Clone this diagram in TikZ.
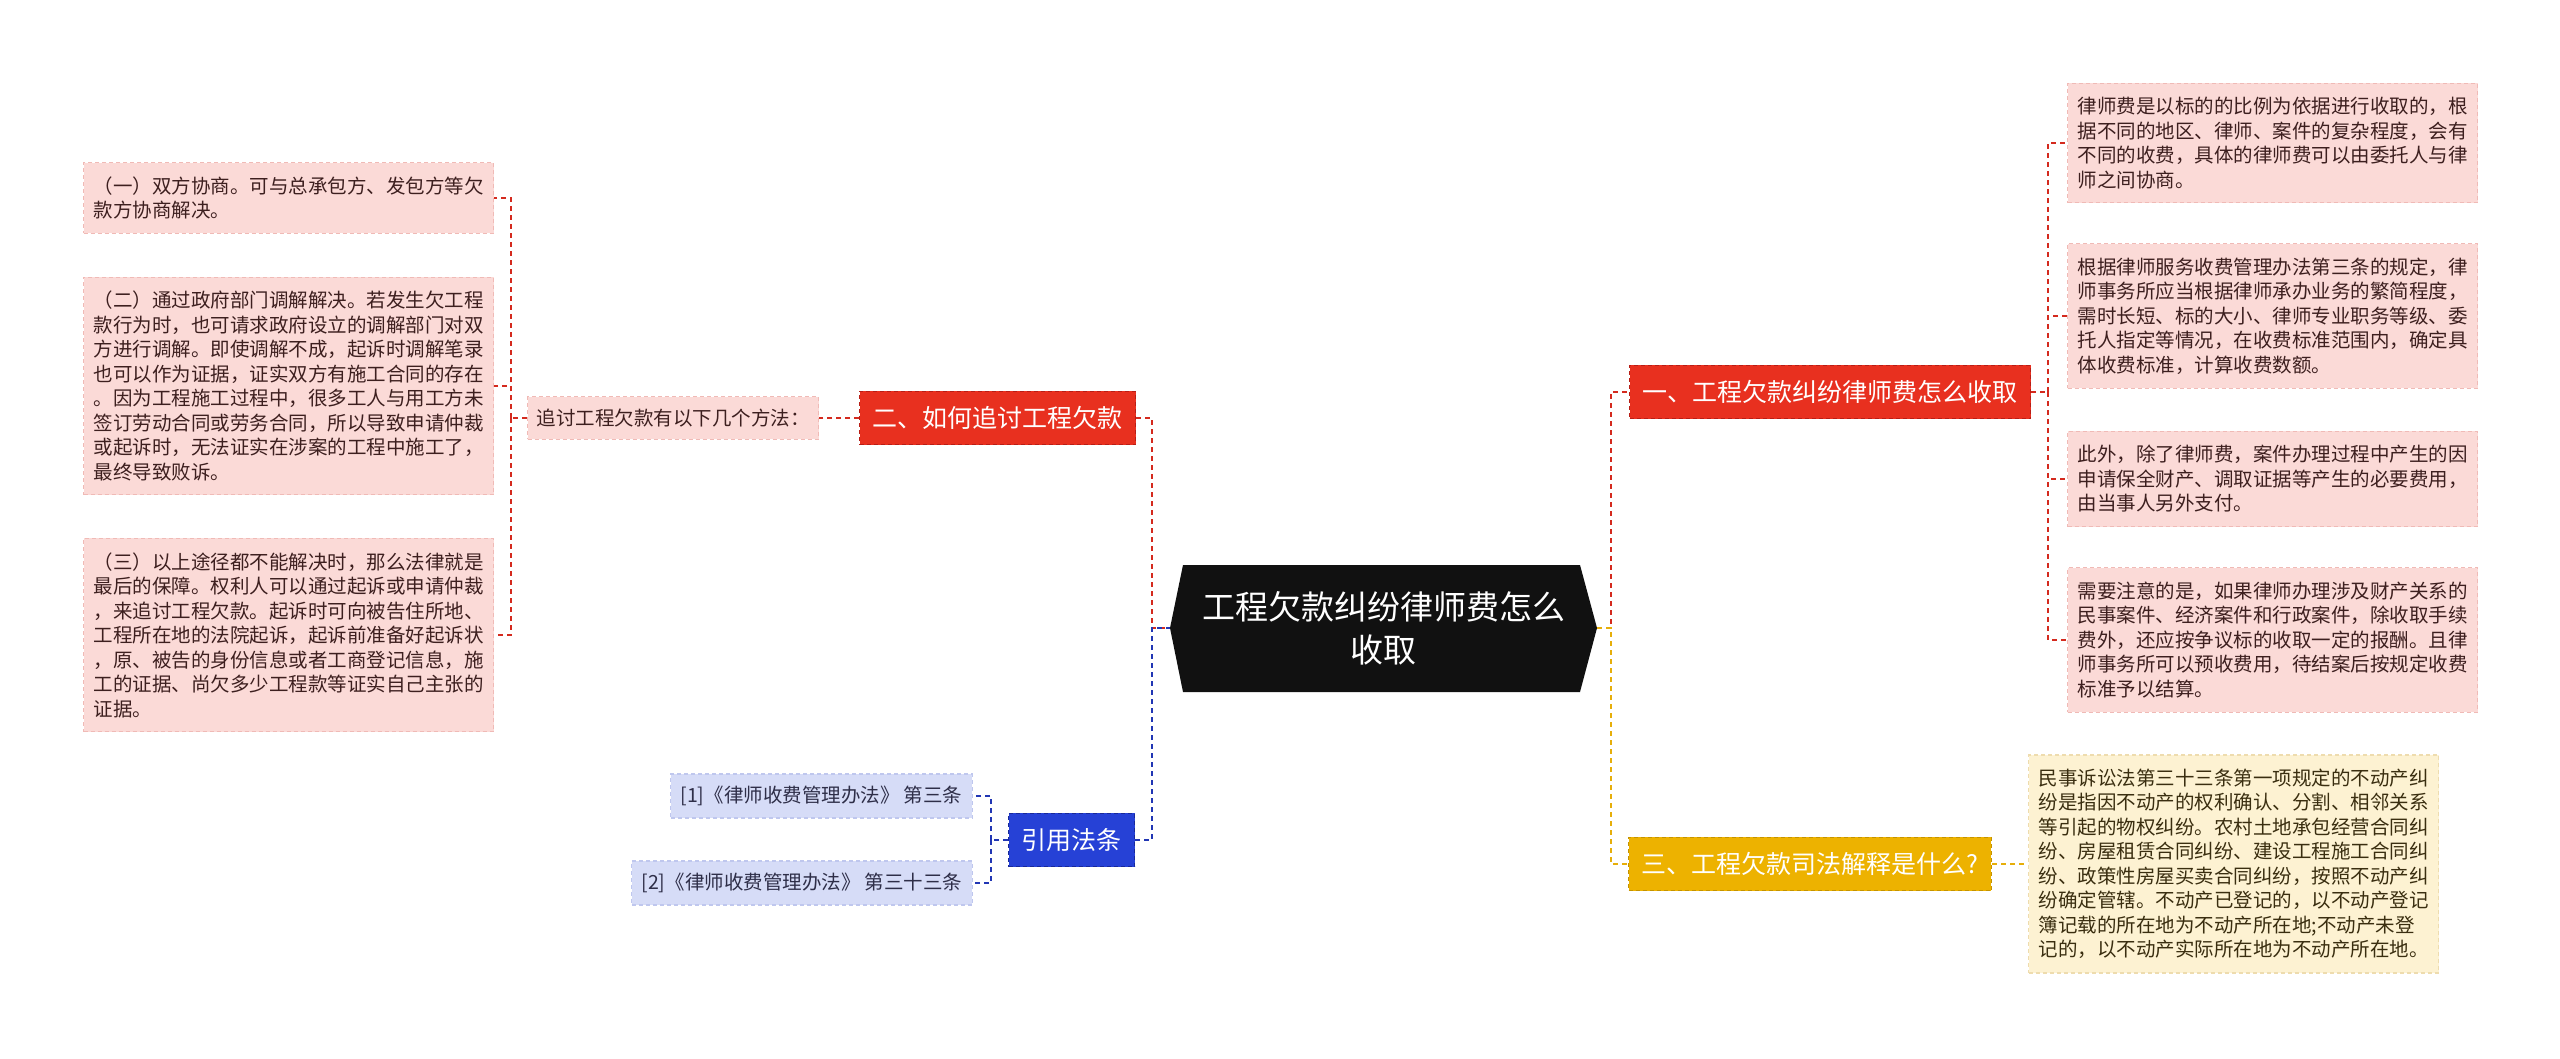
\documentclass[tikz,border=0pt]{standalone}
\usepackage{fontspec}
\newfontfamily\cjk{Noto Sans CJK SC}
\usetikzlibrary{positioning}
\definecolor{rootfill}{HTML}{111111}
\definecolor{redbox}{HTML}{E8301F}
\definecolor{rededge}{HTML}{B81E16}
\definecolor{redline}{HTML}{D42A1E}
\definecolor{pinkfill}{HTML}{FBDAD7}
\definecolor{pinkedge}{HTML}{F0BAB6}
\definecolor{pinktext}{HTML}{3D1F1F}
\definecolor{bluebox}{HTML}{2641D6}
\definecolor{blueedge}{HTML}{18299A}
\definecolor{blueline}{HTML}{2136B4}
\definecolor{lavfill}{HTML}{D6DCF7}
\definecolor{lavedge}{HTML}{BFC7EE}
\definecolor{lavtext}{HTML}{2E2E48}
\definecolor{goldbox}{HTML}{EDB200}
\definecolor{goldedge}{HTML}{C49300}
\definecolor{goldline}{HTML}{E6AE0A}
\definecolor{creamfill}{HTML}{FDF2D2}
\definecolor{creamedge}{HTML}{EEDCAE}
\definecolor{creamtext}{HTML}{3A2E10}

\begin{document}
\begin{tikzpicture}[x=1pt, y=-1pt, every node/.style={font=\cjk},
	link/.style={line width=1.8pt, dash pattern=on 5pt off 4pt},
	branch/.style={draw, line width=1.2pt, dash pattern=on 4pt off 3pt, inner xsep=13pt, inner ysep=15pt, text=white, font=\cjk\fontsize{25}{30}\selectfont},
	leaf/.style={draw, line width=1.2pt, dash pattern=on 4pt off 3pt, inner xsep=10pt, inner ysep=14pt, align=left, font=\cjk\fontsize{19.5}{24.5}\selectfont},
	pink/.style={leaf, fill=pinkfill, draw=pinkedge, text=pinktext},
	lav/.style={leaf, fill=lavfill, draw=lavedge, text=lavtext},
	cream/.style={leaf, fill=creamfill, draw=creamedge, text=creamtext}]
	\fill[white] (0,0) rectangle (2560,1059);
	\useasboundingbox (0,0) rectangle (2560,1059);
	% root
	\fill[rootfill] (1183,565) -- (1580,565) -- (1597,628) -- (1580,692) -- (1183,692) -- (1170,628) -- cycle;
	\node[minimum width=427pt, minimum height=127pt, text=white, align=center, font=\cjk\fontsize{33}{43}\selectfont] (root) at (1383.5,628) {工程欠款纠纷律师费怎么\\收取};
	% left side
	\node[branch, fill=redbox, draw=rededge, anchor=west] (b2) at (859,418) {二、如何追讨工程欠款};
	\node[pink, anchor=west, inner xsep=9pt, inner ysep=12pt] (q) at (527,418) {追讨工程欠款有以下几个方法：};
	\node[pink, anchor=west] (l1) at (83,198) {（一）双方协商。可与总承包方、发包方等欠\\款方协商解决。};
	\node[pink, anchor=west] (l2) at (83,386) {（二）通过政府部门调解解决。若发生欠工程\\款行为时，也可请求政府设立的调解部门对双\\方进行调解。即使调解不成，起诉时调解笔录\\也可以作为证据，证实双方有施工合同的存在\\。因为工程施工过程中，很多工人与用工方未\\签订劳动合同或劳务合同，所以导致申请仲裁\\或起诉时，无法证实在涉案的工程中施工了，\\最终导致败诉。};
	\node[pink, anchor=west] (l3) at (83,635) {（三）以上途径都不能解决时，那么法律就是\\最后的保障。权利人可以通过起诉或申请仲裁\\，来追讨工程欠款。起诉时可向被告住所地、\\工程所在地的法院起诉，起诉前准备好起诉状\\，原、被告的身份信息或者工商登记信息，施\\工的证据、尚欠多少工程款等证实自己主张的\\证据。};
	\node[branch, fill=bluebox, draw=blueedge, anchor=west] (b3) at (1008,840) {引用法条};
	\node[lav, anchor=east, inner ysep=12pt] (r1) at (973,796) {[1]《律师收费管理办法》 第三条};
	\node[lav, anchor=east, inner ysep=12pt] (r2) at (973,883) {[2]《律师收费管理办法》 第三十三条};
	% right side
	\node[branch, fill=redbox, draw=rededge, anchor=west] (b1) at (1629,392) {一、工程欠款纠纷律师费怎么收取};
	\node[pink, anchor=west] (c1) at (2067,143) {律师费是以标的的比例为依据进行收取的，根\\据不同的地区、律师、案件的复杂程度，会有\\不同的收费，具体的律师费可以由委托人与律\\师之间协商。};
	\node[pink, anchor=west] (c2) at (2067,316) {根据律师服务收费管理办法第三条的规定，律\\师事务所应当根据律师承办业务的繁简程度，\\需时长短、标的大小、律师专业职务等级、委\\托人指定等情况，在收费标准范围内，确定具\\体收费标准，计算收费数额。};
	\node[pink, anchor=west] (c3) at (2067,479) {此外，除了律师费，案件办理过程中产生的因\\申请保全财产、调取证据等产生的必要费用，\\由当事人另外支付。};
	\node[pink, anchor=west] (c4) at (2067,640) {需要注意的是，如果律师办理涉及财产关系的\\民事案件、经济案件和行政案件，除收取手续\\费外，还应按争议标的收取一定的报酬。且律\\师事务所可以预收费用，待结案后按规定收费\\标准予以结算。};
	\node[branch, fill=goldbox, draw=goldedge, anchor=west] (b4) at (1628,864) {三、工程欠款司法解释是什么?};
	\node[cream, anchor=west] (d1) at (2028,864) {民事诉讼法第三十三条第一项规定的不动产纠\\纷是指因不动产的权利确认、分割、相邻关系\\等引起的物权纠纷。农村土地承包经营合同纠\\纷、房屋租赁合同纠纷、建设工程施工合同纠\\纷、政策性房屋买卖合同纠纷，按照不动产纠\\纷确定管辖。不动产已登记的，以不动产登记\\簿记载的所在地为不动产所在地;不动产未登\\记的，以不动产实际所在地为不动产所在地。};
	% joints
	\coordinate (lj) at (1152,628);
	\coordinate (rj) at (1611,628);
	\coordinate (lb) at (511,418);
	\coordinate (bb) at (991,840);
	\coordinate (rb) at (2048,392);
	% connectors
	\draw[link, redline] (b2.east) -| (lj) -- (root.west);
	\draw[link, blueline] (b3.east) -| (lj) -- (root.west);
	\draw[link, redline] (root.east) -- (rj) |- (b1.west);
	\draw[link, goldline] (root.east) -- (rj) |- (b4.west);
	\draw[link, redline] (b2.west) -- (q.east);
	\draw[link, redline] (q.west) -- (lb);
	\foreach \n in {l1,l2,l3} \draw[link, redline] (lb) |- (\n.east);
	\draw[link, blueline] (b3.west) -- (bb);
	\foreach \n in {r1,r2} \draw[link, blueline] (bb) |- (\n.east);
	\draw[link, redline] (b1.east) -- (rb);
	\foreach \n in {c1,c2,c3,c4} \draw[link, redline] (rb) |- (\n.west);
	\draw[link, goldline] (b4.east) -- (d1.west);
\end{tikzpicture}
\end{document}
